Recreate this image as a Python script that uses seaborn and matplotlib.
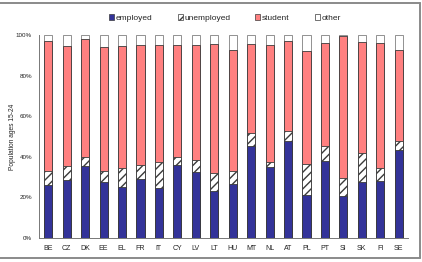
import matplotlib
matplotlib.use("Agg")
import matplotlib.pyplot as plt
import seaborn as sns
import pandas as pd
import numpy as np
from matplotlib.patches import Patch

countries = ["BE", "CZ", "DK", "EE", "EL", "FR", "IT", "CY", "LV", "LT",
             "HU", "MT", "NL", "AT", "PL", "PT", "SI", "SK", "FI", "SE"]
employed = [26.1, 28.6, 35.5, 27.6, 25.1, 29.1, 24.8, 36.1, 32.5, 23.0,
            26.6, 45.3, 35.1, 47.9, 21.3, 37.9, 20.7, 27.6, 28.1, 43.3]
unemployed = [7.1, 6.7, 4.5, 5.6, 9.5, 6.9, 12.5, 3.9, 5.9, 9.2,
              6.2, 6.3, 2.5, 4.6, 15.0, 7.6, 9.0, 14.1, 6.5, 4.3]
student = [63.8, 59.3, 57.9, 60.8, 60.0, 59.0, 57.8, 55.1, 56.6, 63.2,
           59.6, 43.8, 57.5, 44.5, 55.8, 50.4, 69.8, 54.7, 61.6, 45.2]
other = [3.0, 5.4, 2.1, 6.0, 5.4, 5.0, 4.9, 4.9, 5.0, 4.6,
         7.6, 4.6, 4.9, 3.0, 7.9, 4.1, 0.5, 3.6, 3.8, 7.2]
series_names = ["employed", "unemployed", "student", "other"]
yticks = [0, 20, 40, 60, 80, 100]
ytick_labels = ["0%", "20%", "40%", "60%", "80%", "100%"]

sns.set_style("white")
plt.rcParams["font.family"] = ["Liberation Sans", "DejaVu Sans"]
plt.rcParams["hatch.color"] = "#6f6f6f"
plt.rcParams["hatch.linewidth"] = 1.0

df = pd.DataFrame({"country": countries, "employed": employed,
                   "unemployed": unemployed, "student": student, "other": other})
df["c_emp"] = df["employed"]
df["c_unemp"] = df["c_emp"] + df["unemployed"]
df["c_stud"] = df["c_unemp"] + df["student"]
df["c_other"] = df["c_stud"] + df["other"]

W, H = 422, 262
fig = plt.figure(figsize=(W / 100, H / 100), dpi=100)
ax = fig.add_axes([39 / W, 1 - 238 / H, (408 - 39) / W, (238 - 35) / H])

edge = "#3a3a3a"
layers = [("c_other", "white", None), ("c_stud", "#FF8080", None),
          ("c_unemp", "white", "////"), ("c_emp", "#333399", None)]
for col, color, hatch in layers:
    n_before = len(ax.patches)
    sns.barplot(data=df, x="country", y=col, color=color, width=0.44,
                edgecolor=edge, linewidth=0.6, ax=ax, saturation=1, errorbar=None)
    for p in ax.patches[n_before:]:
        p.set_facecolor(color)
        if hatch:
            p.set_hatch(hatch)
        if col == "c_other":
            p.set_edgecolor("#808080")

ax.set_ylim(0, 100)
ax.set_xlim(-0.5, len(countries) - 0.5)
ax.set_yticks(yticks)
ax.set_yticklabels(ytick_labels, fontsize=4.5, color="#222222")
ax.set_xticks(range(len(countries)))
ax.set_xticklabels(countries, fontsize=5, color="#222222")
ax.set_xticks(np.arange(-0.5, len(countries), 1), minor=True)
ax.tick_params(axis="x", which="major", length=0, pad=5)
ax.tick_params(axis="x", which="minor", length=2.5, width=0.6, color="#555555")
ax.tick_params(axis="y", length=3, width=0.6, color="#555555", pad=2, direction="out")
ax.set_xlabel("")
ax.set_ylabel("Population ages 15-24", fontsize=4.8, color="#222222", labelpad=0)
for s in ["top", "right"]:
    ax.spines[s].set_visible(False)
for s in ["left", "bottom"]:
    ax.spines[s].set_color("#777777")
    ax.spines[s].set_linewidth(0.7)

handles = [Patch(facecolor="#333399", edgecolor=edge, linewidth=0.5),
           Patch(facecolor="white", edgecolor=edge, hatch="///", linewidth=0.5),
           Patch(facecolor="#FF8080", edgecolor=edge, linewidth=0.5),
           Patch(facecolor="white", edgecolor=edge, linewidth=0.5)]
fig.legend(handles, series_names, loc="center", bbox_to_anchor=(225 / W, 1 - 18 / H),
           ncol=4, frameon=False, fontsize=6, handlelength=0.6, handleheight=0.6,
           handletextpad=0.2, columnspacing=3.0, borderaxespad=0)

# outer frame (top, right, bottom)
frame_kw = dict(transform=fig.transFigure, color="#8a8a8a", linewidth=1.4)
fig.add_artist(plt.Line2D([0, 420 / W], [1 - 3 / H, 1 - 3 / H], **frame_kw))
fig.add_artist(plt.Line2D([420 / W, 420 / W], [1 - 3 / H, 1 - 258 / H], **frame_kw))
fig.add_artist(plt.Line2D([0, 420 / W], [1 - 258 / H, 1 - 258 / H], **frame_kw))

fig.savefig("out.png", dpi=100)
